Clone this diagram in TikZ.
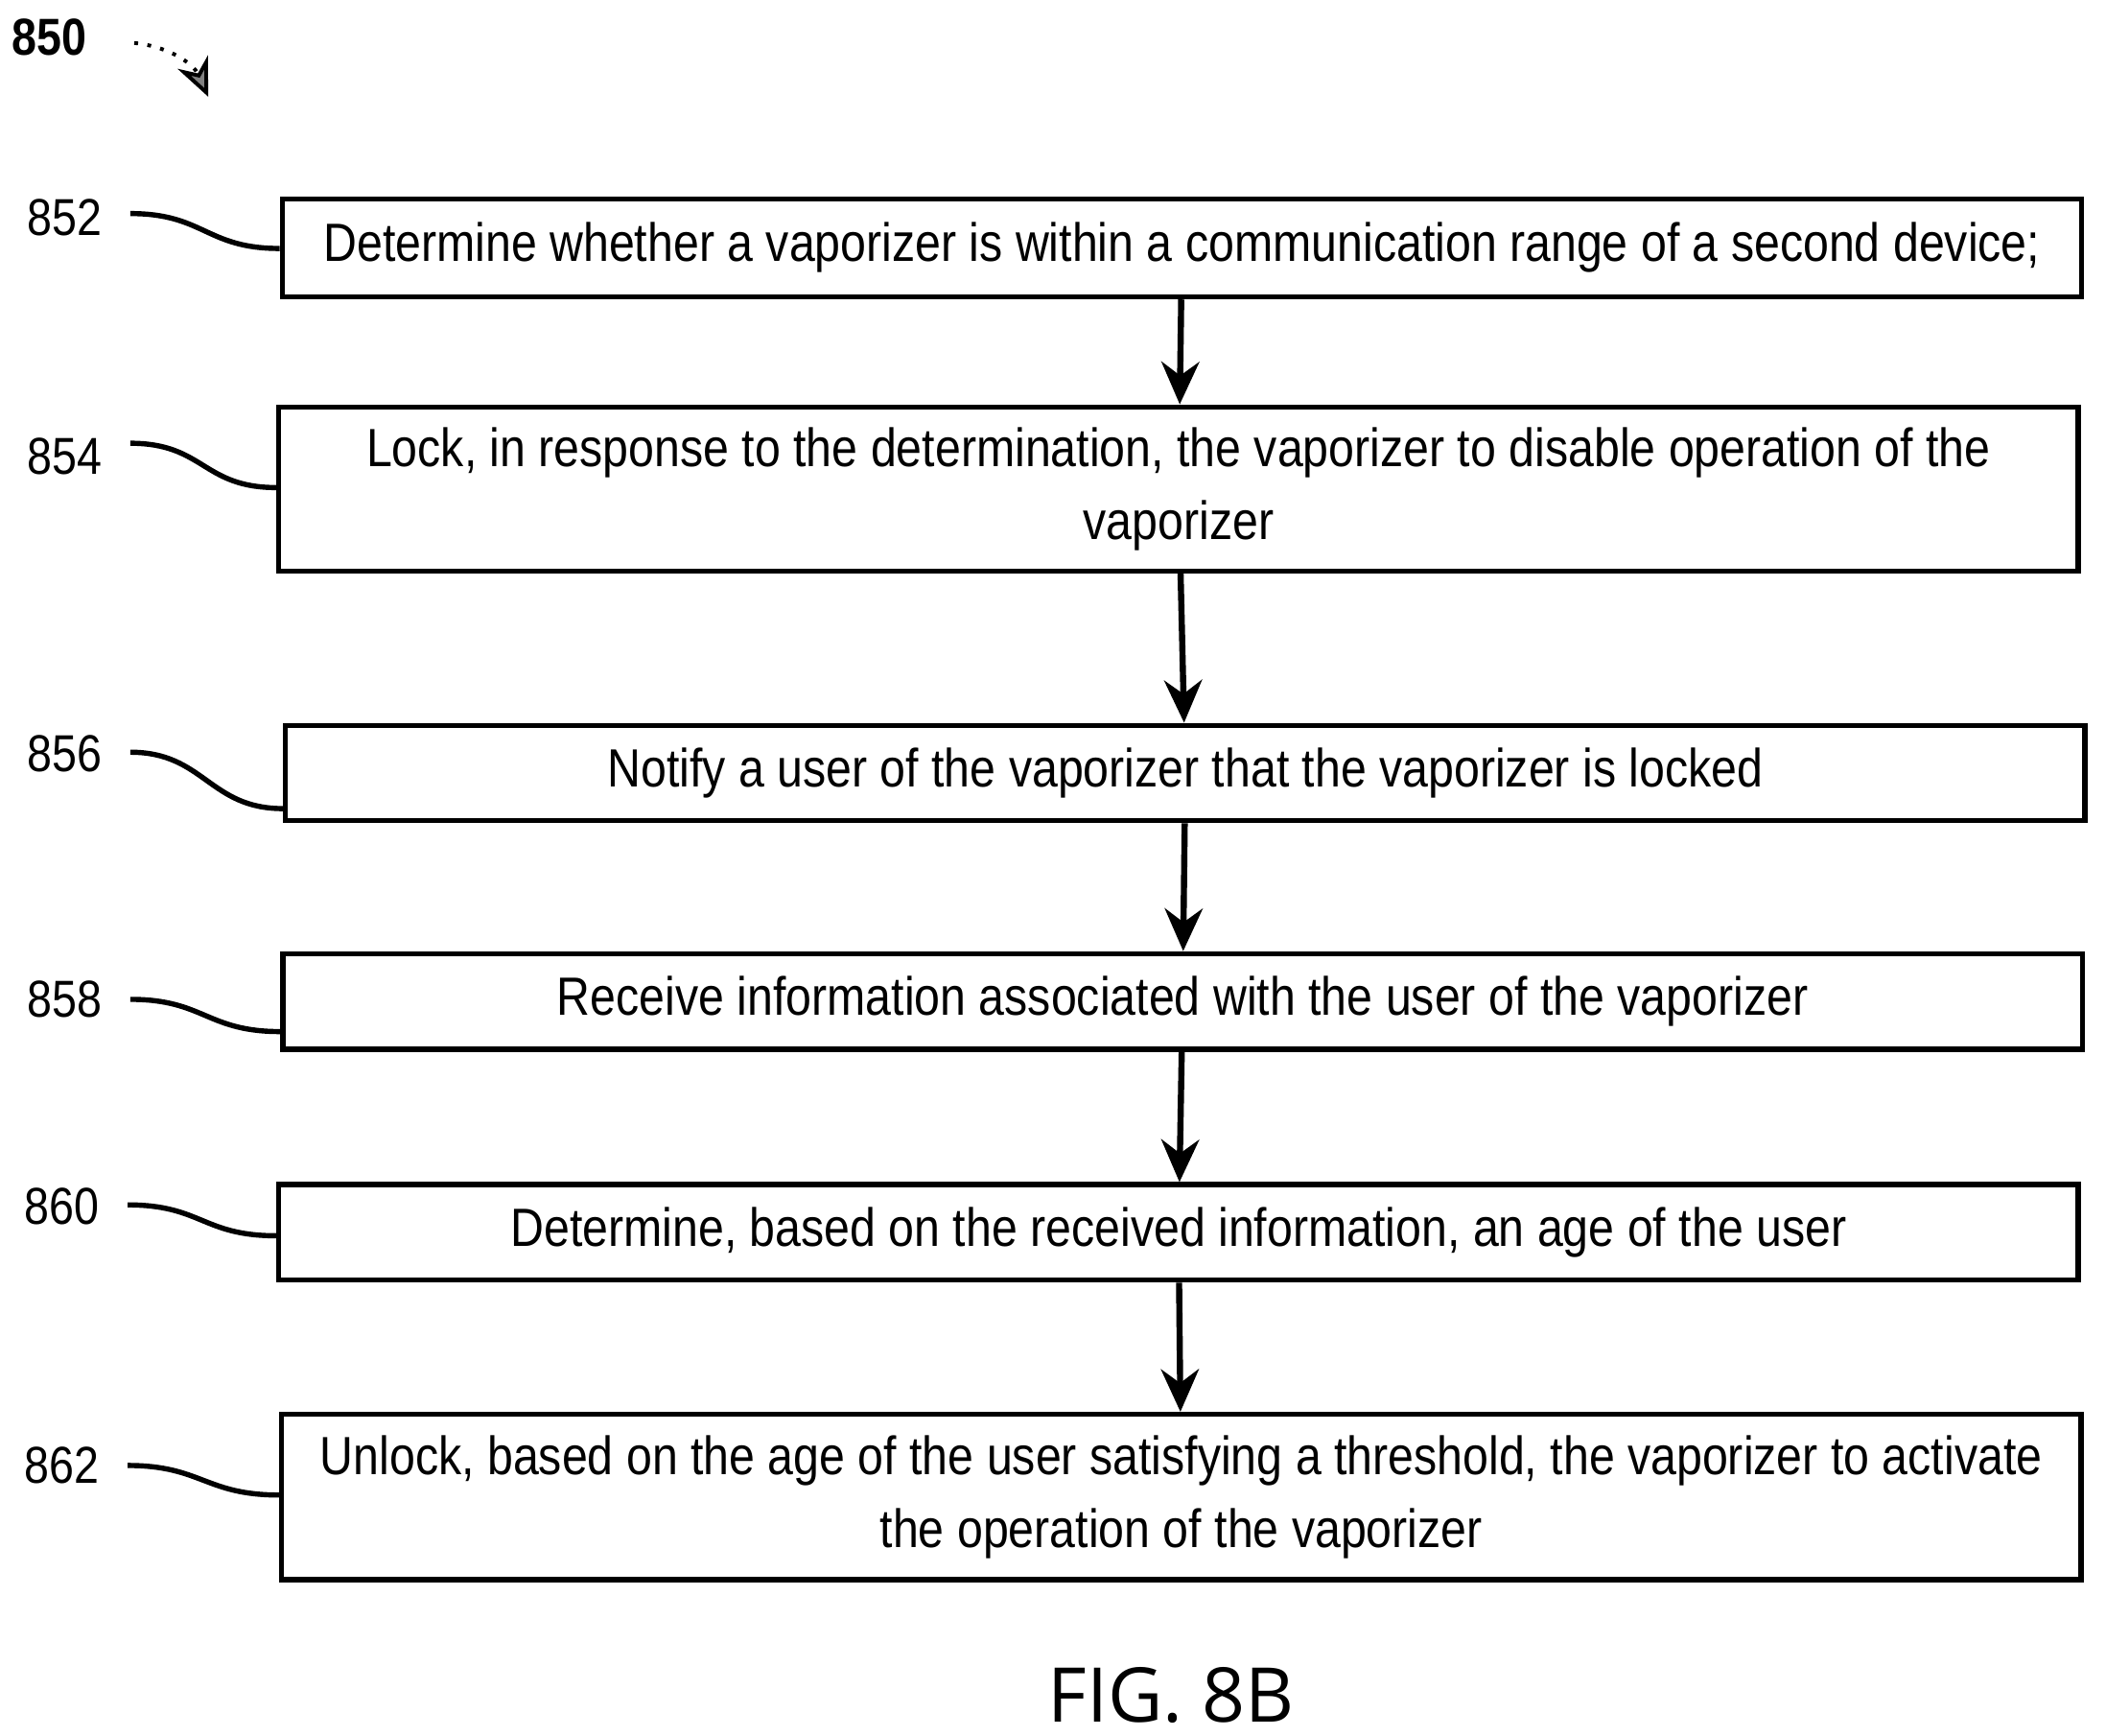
\documentclass[tikz,border=0pt]{standalone}
\usepackage{fontspec}
\setmainfont{Liberation Sans}[FakeStretch=0.86]
\newfontfamily\figfont{Open Sans}
\usetikzlibrary{arrows.meta}
\begin{document}
\begin{tikzpicture}[
x=0.01cm, y=-0.01cm,
stepnode/.style={rectangle, draw, line width=1.1pt, inner sep=0pt, align=center, minimum width=13.39cm, font=\fontsize{11.4}{15.5}\selectfont},
reflabel/.style={font=\fontsize{11}{13}\selectfont},
flowarrow/.style={-{Stealth[length=9pt,width=8pt]}, line width=1.3pt},
]
\useasboundingbox (0,0) rectangle (1568,1292);
%Nodes
\node[stepnode, minimum height=0.73cm] (s852) at (880,184.5) {Determine whether a vaporizer is within a communication range of a second device;};
\node[stepnode, minimum height=1.22cm] (s854) at (877.5,364) {Lock, in response to the determination, the vaporizer to disable operation of the\\vaporizer};
\node[stepnode, minimum height=0.71cm] (s856) at (882.5,575.5) {Notify a user of the vaporizer that the vaporizer is locked};
\node[stepnode, minimum height=0.71cm] (s858) at (880.5,745.5) {Receive information associated with the user of the vaporizer};
\node[stepnode, minimum height=0.71cm] (s860) at (877.5,917.5) {Determine, based on the received information, an age of the user};
\node[stepnode, minimum height=1.23cm] (s862) at (879.5,1114.5) {Unlock, based on the age of the user satisfying a threshold, the vaporizer to activate\\the operation of the vaporizer};

%Labels
\node[reflabel, font=\bfseries\fontsize{11}{13}\selectfont] (l850) at (37,28) {850};
\node[reflabel] (l852) at (48,162) {852};
\node[reflabel] (l854) at (48,340) {854};
\node[reflabel] (l856) at (48,561) {856};
\node[reflabel] (l858) at (48,744) {858};
\node[reflabel] (l860) at (46,898) {860};
\node[reflabel] (l862) at (46,1091) {862};
\node[font=\figfont\fontsize{16}{19}\selectfont] (fig) at (872,1262) {FIG. 8B};

\coordinate (c850a) at (100,32);
\coordinate (c850b) at (155,72);
\coordinate (c852) at (97,159);  \coordinate (e852) at (0,185);
\coordinate (c854) at (97,330);  \coordinate (e854) at (0,363);
\coordinate (c856) at (97,560);  \coordinate (e856) at (0,602);
\coordinate (c858) at (97,744);  \coordinate (e858) at (0,768);
\coordinate (c860) at (95,897);  \coordinate (e860) at (0,920);
\coordinate (c862) at (95,1091); \coordinate (e862) at (0,1113);

%Connectors
\draw[line width=0.8pt, dotted, -{Stealth[length=8pt,width=7pt,fill=gray]}] (c850a) to[bend left=30] (c850b);
\foreach \n in {852,854,856,858,860,862}
  \draw[line width=1.1pt] (c\n) .. controls +(55,0) and +(-55,0) .. (s\n.west |- e\n);
\draw[flowarrow] (s852) -- (s854);
\draw[flowarrow] (s854) -- (s856);
\draw[flowarrow] (s856) -- (s858);
\draw[flowarrow] (s858) -- (s860);
\draw[flowarrow] (s860) -- (s862);
\end{tikzpicture}
\end{document}
